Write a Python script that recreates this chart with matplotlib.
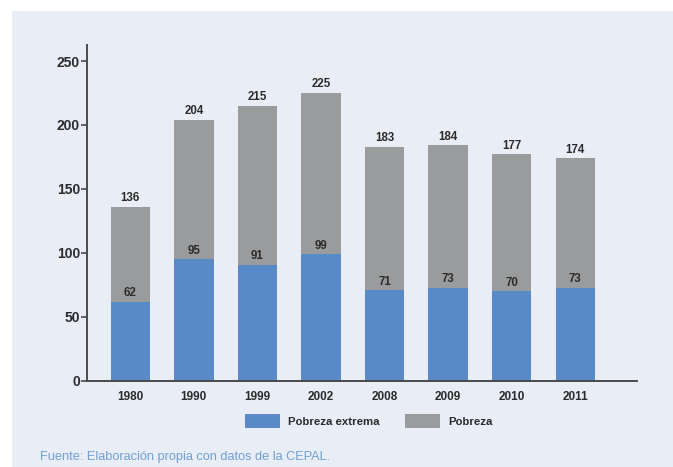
import numpy as np
import matplotlib
matplotlib.use('Agg')
from matplotlib import pyplot as plt
from matplotlib.patches import Rectangle, Patch

plt.rcParams['font.family'] = ['Liberation Sans', 'DejaVu Sans']

years = ['1980', '1990', '1999', '2002', '2008', '2009', '2010', '2011']
pobreza_extrema = [62, 95, 91, 99, 71, 73, 70, 73]
pobreza_total = [136, 204, 215, 225, 183, 184, 177, 174]

blue = '#5a89c8'
gray = '#9a9b9d'
bg = '#e9edf6'
dark = '#2b2b2b'

W, H = 673, 467
fig = plt.figure(figsize=(W / 100, H / 100), dpi=100)
fig.patch.set_facecolor('white')
fig.patches.append(Rectangle((12 / W, 0), 1, 1 - 11 / H, transform=fig.transFigure,
                             facecolor=bg, edgecolor='none', zorder=-10))

ax = fig.add_axes([87 / W, (H - 381) / H, (637 - 87) / W, 336 / H])
ax.set_facecolor('none')

x = np.arange(len(years))
ext = np.array(pobreza_extrema)
tot = np.array(pobreza_total)
ax.bar(x, ext, width=0.62, color=blue)
ax.bar(x, tot - ext, bottom=ext, width=0.62, color=gray)

for xi, e, t in zip(x, ext, tot):
    ax.text(xi, t + 2, str(t), ha='center', va='bottom', fontsize=8.3,
            fontweight='bold', color=dark)
    ax.text(xi, e + 2, str(e), ha='center', va='bottom', fontsize=8.3,
            fontweight='bold', color=dark)

ax.set_xlim(-0.68, 7.97)
ax.set_ylim(0, 262.5)
ax.set_yticks([0, 50, 100, 150, 200, 250])
ax.set_xticks(x)
ax.set_xticklabels(years)
for s in ['top', 'right']:
    ax.spines[s].set_visible(False)
for s in ['left', 'bottom']:
    ax.spines[s].set_color('#4a4a4a')
    ax.spines[s].set_linewidth(1.4)
ax.tick_params(axis='y', length=4, width=1.2, color='#4a4a4a', labelsize=10,
               labelcolor=dark, pad=1)
ax.tick_params(axis='x', length=0, labelsize=8.5, labelcolor=dark, pad=7)
for lab in ax.get_yticklabels() + ax.get_xticklabels():
    lab.set_fontweight('bold')

handles = [Patch(facecolor=blue, label='Pobreza extrema'),
           Patch(facecolor=gray, label='Pobreza')]
leg = fig.legend(handles=handles, loc='center', bbox_to_anchor=(0.548, 1 - 421 / H),
                 ncol=2, frameon=False, handlelength=3.1, handleheight=1.6,
                 columnspacing=2.2, handletextpad=0.7,
                 prop={'size': 8.2, 'weight': 'bold'})
for t in leg.get_texts():
    t.set_color(dark)

fig.text(40 / W, 1 - 457 / H, 'Fuente: Elaboración propia con datos de la CEPAL.',
         fontsize=9.2, color='#6f9fd4', ha='left', va='center')

plt.savefig('out.png', dpi=100)
